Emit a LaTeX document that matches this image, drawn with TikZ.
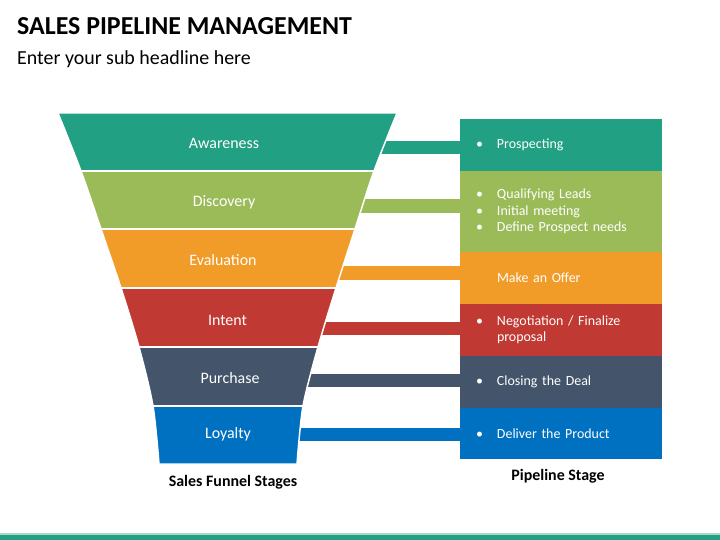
\documentclass[tikz,border=0pt]{standalone}
\usepackage{fontspec}
\setmainfont{Carlito}
\usetikzlibrary{positioning}
\definecolor{tealcolor}{RGB}{33,160,131}
\definecolor{greencolor}{RGB}{155,187,89}
\definecolor{orangecolor}{RGB}{241,156,40}
\definecolor{redcolor}{RGB}{193,57,51}
\definecolor{slatecolor}{RGB}{68,84,106}
\definecolor{bluecolor}{RGB}{0,112,192}
\newcommand{\bul}{\makebox[21bp][l]{\textbullet}}
\newcommand{\nobul}{\hspace*{21bp}}
\newcommand{\funnelpath}{plot[smooth, tension=0.5] coordinates {(58,113) (81,171) (101,229) (121,288) (139,347) (153,406) (159,464)} -- plot[smooth, tension=0.5] coordinates {(297,464) (303,406) (318,347) (336,288) (355,229) (374,171) (397,113)} -- cycle}

\begin{document}
\begin{tikzpicture}[x=1bp, y=-1bp]
    % Define the styles
    \tikzstyle{stagelabel} = [anchor=base, text=white, font=\fontsize{16}{19}\selectfont]
    \tikzstyle{pipebox} = [minimum width=202bp, text width=170bp, inner xsep=16bp, inner ysep=0pt, outer sep=0pt, align=left, text=white, font=\fontsize{14}{16.5}\selectfont]
    \tikzstyle{bar} = [line width=13.5bp]
    \tikzstyle{caption} = [anchor=base, font=\bfseries\fontsize{16}{19}\selectfont]

    \useasboundingbox (0,0) rectangle (720,540);

    % Title and sub headline
    \node[anchor=base west, inner sep=0pt, font=\bfseries\fontsize{26}{31}\selectfont] (title) at (17,35) {SALES PIPELINE MANAGEMENT};
    \node[anchor=base west, inner sep=0pt, font=\fontsize{20}{24}\selectfont] (subtitle) at (17,65) {Enter your sub headline here};

    % Pipeline stages (right column)
    \node[pipebox, fill=tealcolor, minimum height=52bp, anchor=north west] (prospect) at (460,119) {\bul Prospecting};
    \node[pipebox, fill=greencolor, minimum height=81bp, below=0pt of prospect] (qualify) {\bul Qualifying Leads\\ \bul Initial meeting\\ \bul Define Prospect needs};
    \node[pipebox, fill=orangecolor, minimum height=52bp, below=0pt of qualify] (offer) {\nobul Make an Offer};
    \node[pipebox, fill=redcolor, minimum height=52bp, below=0pt of offer] (negotiate) {\bul Negotiation / Finalize\\ \nobul proposal};
    \node[pipebox, fill=slatecolor, minimum height=52bp, below=0pt of negotiate] (closing) {\bul Closing the Deal};
    \node[pipebox, fill=bluecolor, minimum height=51bp, below=0pt of closing] (deliver) {\bul Deliver the Product};

    % Bars from the funnel to the pipeline stages
    \coordinate (aware-bar) at (300,147.5);
    \coordinate (discover-bar) at (300,206);
    \coordinate (eval-bar) at (300,273);
    \coordinate (intent-bar) at (280,328.5);
    \coordinate (purchase-bar) at (260,380.5);
    \coordinate (loyal-bar) at (260,434.5);
    \draw[bar, tealcolor] (aware-bar) -- (aware-bar -| prospect.west);
    \draw[bar, greencolor] (discover-bar) -- (discover-bar -| qualify.west);
    \draw[bar, orangecolor] (eval-bar) -- (eval-bar -| offer.west);
    \draw[bar, redcolor] (intent-bar) -- (intent-bar -| negotiate.west);
    \draw[bar, slatecolor] (purchase-bar) -- (purchase-bar -| closing.west);
    \draw[bar, bluecolor] (loyal-bar) -- (loyal-bar -| deliver.west);

    % Funnel bands
    \begin{scope}
        \clip \funnelpath;
        \fill[tealcolor] (40,100) rectangle (420,171);
        \fill[greencolor] (40,171) rectangle (420,229);
        \fill[orangecolor] (40,229) rectangle (420,288);
        \fill[redcolor] (40,288) rectangle (420,347);
        \fill[slatecolor] (40,347) rectangle (420,406);
        \fill[bluecolor] (40,406) rectangle (420,470);
        \foreach \y in {171,229,288,347,406}
            \draw[white, line width=1.5bp] (40,\y) -- (420,\y);
    \end{scope}
    \draw[white, line width=1.5bp] \funnelpath;

    % Funnel stage labels
    \node[stagelabel] (aware) at (224,149) {Awareness};
    \node[stagelabel] (discover) at (224,206.5) {Discovery};
    \node[stagelabel] (eval) at (223,266) {Evaluation};
    \node[stagelabel] (intent) at (227.5,325) {Intent};
    \node[stagelabel] (purchase) at (230,383) {Purchase};
    \node[stagelabel] (loyal) at (228,438) {Loyalty};

    % Captions
    \node[caption] (funnelcap) at (233,486) {Sales Funnel Stages};
    \node[caption] (pipecap) at (558,480) {Pipeline Stage};

    % Bottom strip
    \fill[tealcolor!40] (0,532.5) rectangle (720,534.5);
    \fill[tealcolor] (0,534.5) rectangle (720,540);
\end{tikzpicture}
\end{document}
